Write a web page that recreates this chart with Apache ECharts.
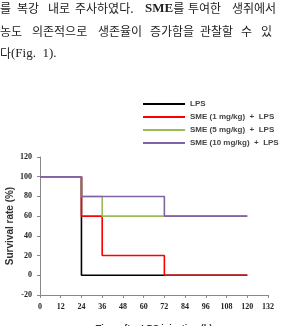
<!DOCTYPE html>
<html><head><meta charset="utf-8">
<script src="https://cdn.jsdelivr.net/npm/echarts@6/dist/echarts.min.js"></script>
<style>html,body{margin:0;padding:0;background:#fff}#c{width:281px;height:326px}</style>
</head><body><div id="c"></div>
<script>
var hours = [0, 24, 36, 72, 120];
var seriesNames = ['LPS', 'SME (1 mg/kg)  +  LPS', 'SME (5 mg/kg)  +  LPS', 'SME (10 mg/kg)  +  LPS'];
var lps = [100, 0, 0, 0, 0];
var sme1 = [100, 60, 20, 0, 0];
var sme5 = [100, 80, 60, 60, 60];
var sme10 = [100, 80, 80, 60, 60];
var colors = ['#000000', '#ff0000', '#9bbb59', '#8064a2'];
var yTicks = [-20, 0, 20, 40, 60, 80, 100, 120];
var xTicks = [0, 12, 24, 36, 48, 60, 72, 84, 96, 108, 120, 132];
var textWords = [
  ['를', '복강', '내로', '주사하였다.', '{b|SME}를', '투여한', '생쥐에서'],
  ['농도', '의존적으로', '생존율이', '증가함을', '관찰할', '수', '있'],
  ['다{s|(Fig.  1).}']
];
// layout: word start x for each line (px)
var wordX = [
  [0, 17, 48, 75, 145, 188, 232],
  [0, 32, 98, 150, 200, 241, 261],
  [0]
];
var lineTop = [2, 25, 47];

function pairs(vals){ return hours.map(function(h,i){ return [h, vals[i]]; }); }
var allVals = [lps, sme1, sme5, sme10];
var chart = echarts.init(document.getElementById('c'));
var serif = '"Liberation Serif", "DejaVu Serif", serif';
var sans = '"Liberation Sans", Arial, sans-serif';
var graphics = [];
textWords.forEach(function(words, li){
  words.forEach(function(w, wi){
    graphics.push({type:'text', left: wordX[li][wi], top: lineTop[li], style:{
      text: w, fontFamily: '"Noto Sans CJK KR"', fontSize: 12, fill:'#222',
      rich: {
        b: {fontFamily: serif, fontWeight: 'bold', fontSize: 13, fill: '#222'},
        s: {fontFamily: serif, fontSize: 13, fill: '#222'}
      }
    }});
  });
});
chart.setOption({
  animation: false,
  color: colors,
  graphic: graphics,
  legend: {
    orient: 'vertical', left: 138, top: 94,
    itemWidth: 42, itemHeight: 6, itemGap: 3,
    icon: 'path://M0,2 L42,2 L42,4 L0,4 Z',
    textStyle: {fontFamily: sans, fontSize: 8, fontWeight: 'bold', color: '#444', lineHeight: 10},
    data: seriesNames
  },
  grid: {left: 40, right: 13, top: 157, bottom: 31, outerBoundsMode: 'none', containLabel: false},
  xAxis: {
    type: 'value', min: 0, max: 132, interval: 12,
    name: 'Time after LPS injection (h)', nameLocation: 'middle', nameGap: 29, nameMoveOverlap: false,
    nameTextStyle: {fontFamily: sans, fontSize: 9, fontWeight: 'bold', color: '#333'},
    axisLine: {show: true, onZero: false, lineStyle: {color: '#888'}},
    axisTick: {show: true, length: 3, lineStyle: {color: '#888'}},
    axisLabel: {fontFamily: serif, fontSize: 8, fontWeight: 'bold', color: '#222', margin: 8,
      formatter: function(v){ return xTicks.indexOf(v) >= 0 ? String(v) : ''; }},
    splitLine: {show: false}
  },
  yAxis: {
    type: 'value', min: -20, max: 120, interval: 20,
    name: 'Survival rate (%)', nameLocation: 'middle', nameGap: 25, nameMoveOverlap: false,
    nameTextStyle: {fontFamily: sans, fontSize: 10, fontWeight: 'bold', color: '#333'},
    axisLine: {show: true, lineStyle: {color: '#888'}},
    axisTick: {show: true, length: 3, lineStyle: {color: '#888'}},
    axisLabel: {fontFamily: serif, fontSize: 8, fontWeight: 'bold', color: '#222', margin: 8,
      formatter: function(v){ return yTicks.indexOf(v) >= 0 ? String(v) : ''; }},
    splitLine: {show: false}
  },
  series: allVals.map(function(v, i){
    return {name: seriesNames[i], type: 'line', step: 'end', data: pairs(v),
      symbol: 'none', lineStyle: {width: 1.6, color: colors[i]}, itemStyle: {color: colors[i]}, z: 2 + i};
  })
});
</script></body></html>
